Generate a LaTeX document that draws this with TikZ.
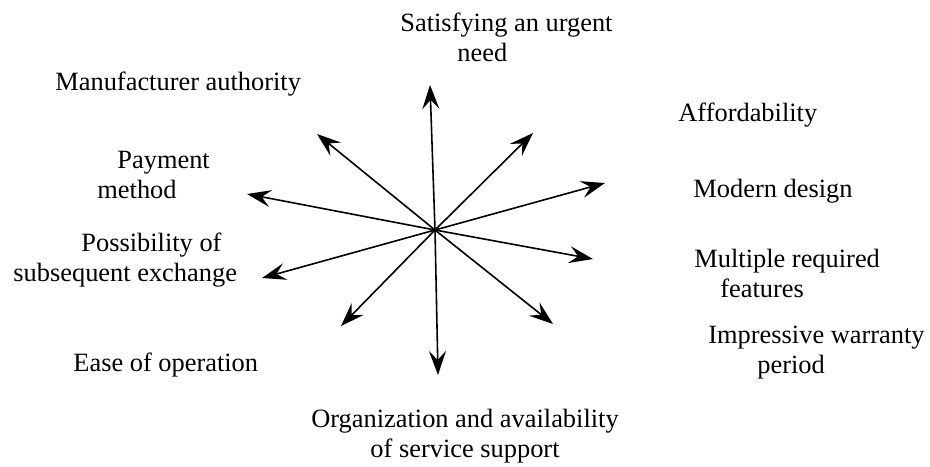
\documentclass[tikz,border=0pt]{standalone}
\usepackage{fontspec}
\setmainfont{Liberation Serif}
\usetikzlibrary{arrows.meta}

\begin{document}
\begin{tikzpicture}[x=0.5pt,y=-0.5pt,
        spoke/.style={line width=0.8pt,-{Stealth[length=12pt,width=8.5pt,inset=4.5pt]}},
        factor/.style={font=\fontsize{13.2}{15}\selectfont,inner sep=0pt,align=left,anchor=base west}]
                \useasboundingbox (0,0) rectangle (930,466);

                \coordinate (o) at (435,230);

                \coordinate (up) at (430,85);
                \coordinate (upleft) at (317,134);
                \coordinate (upright) at (533,133);
                \coordinate (right1) at (605,183);
                \coordinate (left1) at (247,194);
                \coordinate (right2) at (593,259);
                \coordinate (left2) at (262,278);
                \coordinate (downleft) at (341,326);
                \coordinate (downright) at (553,324);
                \coordinate (down) at (438,375);

                \draw[spoke] (o) -- (up);
                \draw[spoke] (o) -- (upleft);
                \draw[spoke] (o) -- (upright);
                \draw[spoke] (o) -- (right1);
                \draw[spoke] (o) -- (left1);
                \draw[spoke] (o) -- (right2);
                \draw[spoke] (o) -- (left2);
                \draw[spoke] (o) -- (downleft);
                \draw[spoke] (o) -- (downright);
                \draw[spoke] (o) -- (down);

                \node[factor] (need) at (400,61) {Satisfying an urgent\\\hspace*{28.5pt}need};
                \node[factor] (authority) at (55,90) {Manufacturer authority};
                \node[factor] (payment) at (97,198) {\hspace*{10pt}Payment\\method};
                \node[factor] (exchange) at (13,281) {\hspace*{34pt}Possibility of\\subsequent exchange};
                \node[factor] (ease) at (73,371) {Ease of operation};
                \node[factor,align=center,anchor=base] (service) at (465,457) {Organization and availability\\of service support};
                \node[factor] (afford) at (678,121) {Affordability};
                \node[factor] (design) at (693,197) {Modern design};
                \node[factor] (features) at (694,297) {Multiple required\\\hspace*{13pt}features};
                \node[factor] (warranty) at (708,373) {Impressive warranty\\\hspace*{24.5pt}period};
            \end{tikzpicture}
\end{document}
